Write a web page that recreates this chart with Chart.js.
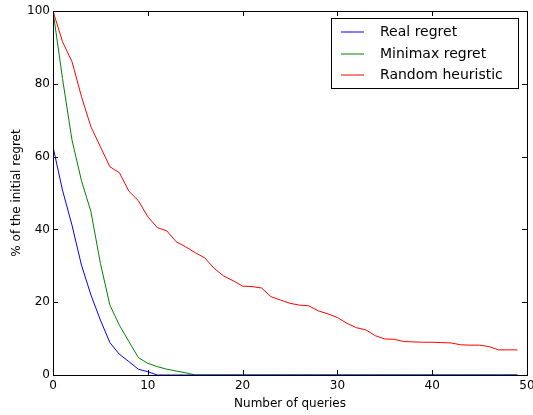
<!DOCTYPE html>
<html>
<head>
<meta charset="utf-8">
<script src="https://cdn.jsdelivr.net/npm/chart.js@4.4.0/dist/chart.umd.min.js"></script>
<style>
  html, body { margin: 0; padding: 0; background: #fff; }
  #wrap { width: 533px; height: 415px; }
</style>
</head>
<body>
<div id="wrap"><canvas id="regret"></canvas></div>
<script>
// data
const queries = [0, 1, 2, 3, 4, 5, 6, 7, 8, 9, 10, 11, 12, 13, 14, 15, 16, 17, 18, 19,
    20, 21, 22, 23, 24, 25, 26, 27, 28, 29, 30, 31, 32, 33, 34, 35, 36, 37, 38, 39,
    40, 41, 42, 43, 44, 45, 46, 47, 48, 49];

const realRegret = [62.7, 50.8, 41.2, 30.2, 22.0, 15.1, 8.9, 5.7, 3.7, 1.6, 0.9, 0, 0, 0, 0, 0, 0, 0, 0, 0,
    0, 0, 0, 0, 0, 0, 0, 0, 0, 0, 0, 0, 0, 0, 0, 0, 0, 0, 0, 0,
    0, 0, 0, 0, 0, 0, 0, 0, 0, 0];

const minimaxRegret = [100, 81.5, 64.6, 53.4, 44.9, 30.7, 19.2, 13.7, 9.2, 4.8, 3.2, 2.3, 1.6, 1.1, 0.6, 0, 0, 0, 0, 0,
    0, 0, 0, 0, 0, 0, 0, 0, 0, 0, 0, 0, 0, 0, 0, 0, 0, 0, 0, 0,
    0, 0, 0, 0, 0, 0, 0, 0, 0, 0];

const randomHeuristic = [100, 91.6, 86.1, 76.5, 68.2, 62.7, 57.2, 55.6, 50.5, 47.9, 43.5, 40.5, 39.6, 36.6, 35.2, 33.6, 32.2, 29.3, 27.2, 25.9,
    24.4, 24.3, 23.9, 21.5, 20.6, 19.7, 19.2, 19.0, 17.6, 16.8, 15.8, 14.2, 13.0, 12.4, 10.8, 9.9, 9.8, 9.2, 9.1, 9.0,
    9.0, 8.9, 8.8, 8.3, 8.2, 8.2, 7.8, 6.9, 6.9, 6.9];

const seriesNames = ['Real regret', 'Minimax regret', 'Random heuristic'];
const seriesColors = ['#0000ff', '#008000', '#ff0000'];

const font = 'DejaVu Sans';

function toPoints(values) {
    return queries.map((q, i) => ({ x: q, y: values[i] }));
}

const data = {
    datasets: [realRegret, minimaxRegret, randomHeuristic].map((values, i) => ({
        label: seriesNames[i],
        data: toPoints(values),
        borderColor: seriesColors[i],
        backgroundColor: seriesColors[i],
        borderWidth: 1,
        pointRadius: 0,
        tension: 0
    }))
};

// matplotlib style frame + inward ticks on all four sides
const frameTicks = {
    id: 'frameTicks',
    afterDraw(chart) {
        const { ctx, chartArea: a, scales } = chart;
        const len = 5;
        ctx.save();
        ctx.strokeStyle = '#000';
        ctx.lineWidth = 1;
        ctx.beginPath();
        scales.x.ticks.forEach(t => {
            const px = Math.round(scales.x.getPixelForValue(t.value)) + 0.5;
            ctx.moveTo(px, a.bottom); ctx.lineTo(px, a.bottom - len);
            ctx.moveTo(px, a.top); ctx.lineTo(px, a.top + len);
        });
        scales.y.ticks.forEach(t => {
            const py = Math.round(scales.y.getPixelForValue(t.value)) + 0.5;
            ctx.moveTo(a.left, py); ctx.lineTo(a.left + len, py);
            ctx.moveTo(a.right, py); ctx.lineTo(a.right - len, py);
        });
        ctx.stroke();
        ctx.strokeRect(Math.round(a.left) + 0.5, Math.round(a.top) + 0.5,
            Math.round(a.right - a.left), Math.round(a.bottom - a.top));
        ctx.restore();
    }
};

// legend box in the upper right corner
const boxLegend = {
    id: 'boxLegend',
    afterDraw(chart) {
        const { ctx, chartArea: a } = chart;
        const w = 187, h = 70;
        const x = Math.round(a.right - 9 - w), y = Math.round(a.top + 7);
        ctx.save();
        ctx.fillStyle = '#fff';
        ctx.fillRect(x, y, w, h);
        ctx.strokeStyle = '#000';
        ctx.lineWidth = 1;
        ctx.strokeRect(x + 0.5, y + 0.5, w, h);
        ctx.font = `14px "${font}"`;
        ctx.textBaseline = 'middle';
        ctx.fillStyle = '#000';
        chart.data.datasets.forEach((ds, i) => {
            const ry = Math.round(y + 14 + i * 21.6);
            ctx.strokeStyle = ds.borderColor;
            ctx.lineWidth = 1;
            ctx.beginPath();
            ctx.moveTo(x + 10, ry);
            ctx.lineTo(x + 33, ry);
            ctx.stroke();
            ctx.fillText(ds.label, x + 49, ry);
        });
        ctx.restore();
    }
};

const options = {
    responsive: false,
    animation: false,
    layout: { padding: { top: 11, right: 6, left: 0, bottom: 0 } },
    plugins: {
        legend: { display: false },
        tooltip: { enabled: false }
    },
    scales: {
        x: {
            type: 'linear',
            min: 0,
            max: 50,
            grid: { display: false, drawTicks: false },
            border: { display: false },
            ticks: { stepSize: 10, color: '#000', padding: 4, font: { family: font, size: 12 } },
            title: { display: true, text: 'Number of queries', color: '#000', padding: { top: 0 }, font: { family: font, size: 12 } },
            afterFit(scale) {
                scale.height = 40;
                scale.paddingLeft = 0;
                scale.paddingRight = 0;
            }
        },
        y: {
            min: 0,
            max: 100,
            grid: { display: false, drawTicks: false },
            border: { display: false },
            ticks: { stepSize: 20, color: '#000', padding: 3, font: { family: font, size: 12 } },
            title: { display: true, text: '% of the initial regret', color: '#000', padding: { top: 10, bottom: 0 }, font: { family: font, size: 12 } },
            afterFit(scale) {
                scale.width = 53;
                scale.paddingTop = 0;
                scale.paddingBottom = 0;
            }
        }
    }
};

const canvas = document.getElementById('regret');
canvas.width = 533;
canvas.height = 415;

new Chart(canvas, {
    type: 'line',
    data: data,
    options: options,
    plugins: [frameTicks, boxLegend]
});
</script>
</body>
</html>
